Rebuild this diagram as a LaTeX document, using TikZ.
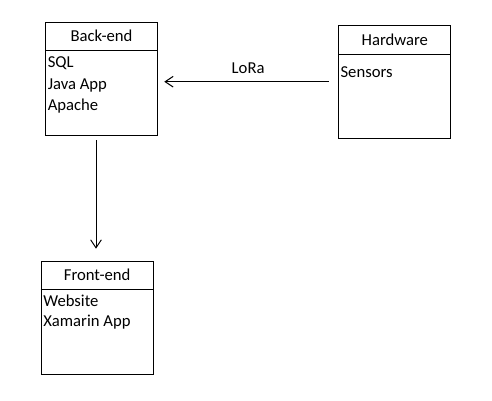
\documentclass[tikz,border=0pt]{standalone}
\usepackage{fontspec}
\setmainfont{Carlito}
\usetikzlibrary{calc,arrows.meta}
\begin{document}
\begin{tikzpicture}[x=0.75pt,y=-0.75pt,
  box/.style={draw,line width=0.75pt,rectangle,anchor=north west,inner sep=0pt,minimum width=84pt,minimum height=85pt},
  lbl/.style={inner sep=0pt,font=\fontsize{12.5pt}{15pt}\selectfont},
  item/.style={lbl,anchor=west},
  conn/.style={line width=0.75pt,-{Straight Barb[length=6pt,width=8pt,line width=0.75pt]}}]
\useasboundingbox (0,0) rectangle (492,400);
% boxes
\node[box] (backend) at (45,21.7) {};
\node[box] (hardware) at (338.3,25) {};
\node[box] (frontend) at (40.7,260.7) {};
% dividers
\draw[line width=0.75pt] ($(backend.north west)+(0,29)$) -- ($(backend.north east)+(0,29)$);
\draw[line width=0.75pt] ($(hardware.north west)+(0,29)$) -- ($(hardware.north east)+(0,29)$);
\draw[line width=0.75pt] ($(frontend.north west)+(0,28.6)$) -- ($(frontend.north east)+(0,28.6)$);
% headers
\node[lbl] (bh) at ($(backend.north)+(0,14.5)$) {Back-end};
\node[lbl] (hh) at ($(hardware.north)+(0,15)$) {Hardware};
\node[lbl] (fh) at ($(frontend.north)+(0,14.5)$) {Front-end};
% items
\node[item] (sql) at (47.5,63.5) {SQL};
\node[item] (java) at (47.5,85) {Java App};
\node[item] (apache) at (47.5,106.5) {Apache};
\node[item] (sensors) at (340.3,72) {Sensors};
\node[item] (web) at (43,300.5) {Website};
\node[item] (xam) at (43,322) {Xamarin App};
% connectors
\draw[conn,shorten <=7pt,shorten >=4.7pt] (hardware.west |- 0,81.7) -- node[lbl,above=5.5pt] (lora) {LoRa} (backend.east |- 0,81.7);
\draw[conn,shorten <=3pt,shorten >=9pt] (backend.south -| 96,0) -- (frontend.north -| 96,0);
\end{tikzpicture}
\end{document}
